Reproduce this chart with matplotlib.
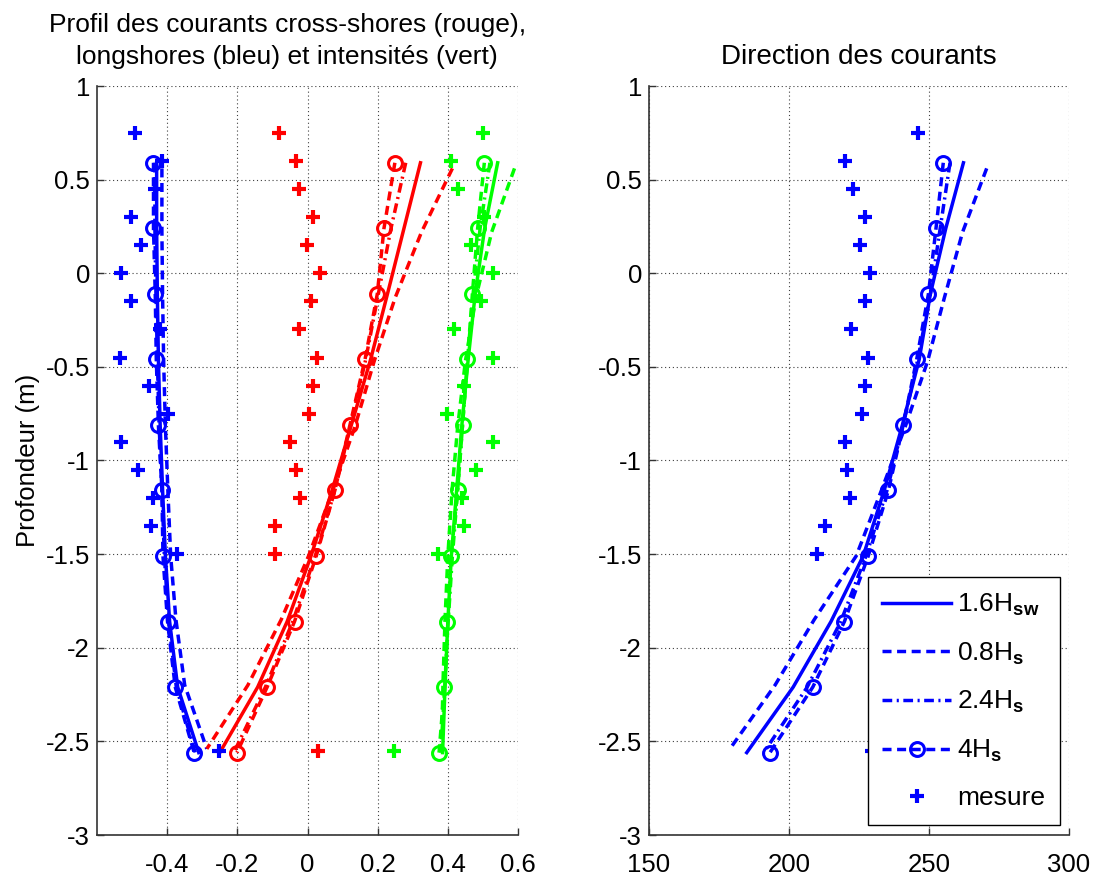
import matplotlib
matplotlib.use("Agg")
import matplotlib.pyplot as plt

plt.rcParams['font.family'] = ['Liberation Sans', 'DejaVu Sans']
plt.rcParams['axes.unicode_minus'] = False
plt.rcParams['mathtext.fontset'] = 'custom'
plt.rcParams['mathtext.rm'] = 'Liberation Sans'
plt.rcParams['mathtext.it'] = 'Liberation Sans'
plt.rcParams['mathtext.bf'] = 'Liberation Sans:bold'

# ---------------- data ----------------
# measurement depths (m)
z_mes = [0.75, 0.60, 0.45, 0.30, 0.15, 0.00, -0.15, -0.30, -0.45, -0.60,
         -0.75, -0.90, -1.05, -1.20, -1.35, -1.50, -2.55]
longshore_mes = [-0.493, -0.415, -0.434, -0.503, -0.474, -0.532, -0.504, -0.420, -0.534,
                 -0.453, -0.399, -0.532, -0.482, -0.439, -0.447, -0.371, -0.253]
crossshore_mes = [-0.082, -0.034, -0.025, 0.016, -0.001, 0.037, 0.009, -0.025, 0.028,
                  0.016, 0.004, -0.051, -0.034, -0.022, -0.093, -0.093, 0.029]
intensity_mes = [0.499, 0.409, 0.428, 0.503, 0.466, 0.528, 0.494, 0.418, 0.528,
                 0.447, 0.397, 0.528, 0.480, 0.440, 0.447, 0.371, 0.247]
direction_mes = [246.0, 220.0, 223.0, 227.1, 225.4, 228.9, 227.1, 222.0, 228.3,
                 227.1, 226.0, 220.0, 220.6, 221.8, 212.9, 209.9, 229.6]

# model depths (m)
z_model = [0.59, 0.24, -0.11, -0.46, -0.81, -1.16, -1.51, -1.86, -2.21, -2.56]
z_model_08 = [0.56, 0.22, -0.13, -0.47, -0.82, -1.16, -1.51, -1.85, -2.20, -2.54]

# longshore (blue)
long_16sw = [-0.430, -0.430, -0.428, -0.425, -0.420, -0.413, -0.405, -0.393, -0.370, -0.310]
long_08 = [-0.415, -0.415, -0.413, -0.410, -0.405, -0.398, -0.390, -0.375, -0.350, -0.287]
long_24 = [-0.435, -0.435, -0.432, -0.428, -0.423, -0.415, -0.408, -0.396, -0.374, -0.320]
long_4 = [-0.439, -0.439, -0.434, -0.431, -0.425, -0.415, -0.412, -0.399, -0.377, -0.323]

# cross-shore (red)
cross_16sw = [0.322, 0.275, 0.228, 0.180, 0.125, 0.070, 0.010, -0.058, -0.142, -0.250]
cross_08 = [0.413, 0.325, 0.250, 0.190, 0.135, 0.072, 0.003, -0.075, -0.170, -0.287]
cross_24 = [0.280, 0.238, 0.202, 0.166, 0.123, 0.078, 0.022, -0.042, -0.120, -0.210]
cross_4 = [0.249, 0.218, 0.199, 0.164, 0.121, 0.078, 0.025, -0.037, -0.115, -0.201]

# intensity (green)
int_16sw = [0.542, 0.505, 0.478, 0.458, 0.440, 0.425, 0.410, 0.400, 0.392, 0.385]
int_08 = [0.590, 0.525, 0.480, 0.450, 0.428, 0.412, 0.400, 0.392, 0.386, 0.382]
int_24 = [0.520, 0.492, 0.472, 0.456, 0.442, 0.428, 0.413, 0.401, 0.391, 0.380]
int_4 = [0.504, 0.485, 0.470, 0.456, 0.442, 0.428, 0.409, 0.399, 0.390, 0.375]

# direction (deg)
dir_16sw = [262.3, 256.0, 250.5, 246.5, 240.5, 234.0, 226.5, 215.0, 201.5, 184.9]
dir_08 = [270.6, 262.0, 255.5, 249.5, 241.5, 233.0, 224.0, 209.0, 195.0, 178.9]
dir_24 = [257.5, 254.0, 250.5, 246.0, 240.8, 235.0, 227.5, 218.5, 206.5, 191.0]
dir_4 = [255.1, 252.5, 249.8, 245.6, 240.8, 235.5, 228.3, 219.8, 208.5, 193.2]

labels = ['1.6H$_{\\mathbf{sw}}$', '0.8H$_{\\mathbf{s}}$', '2.4H$_{\\mathbf{s}}$',
          '4H$_{\\mathbf{s}}$', 'mesure']

# ---------------- styles ----------------
LW = 2.5
DASH = (2.6, 1.6)
DASHDOT = (2.8, 1.3, 0.6, 1.3)
MS_O = 10
MS_P = 10

def draw_models(ax, color, v16, v08, v24, v4):
    h1, = ax.plot(v16, z_model, color=color, lw=LW, ls='-')
    h2, = ax.plot(v08, z_model_08, color=color, lw=LW, dashes=DASH)
    h3, = ax.plot(v24, z_model, color=color, lw=LW, dashes=DASHDOT)
    h4, = ax.plot(v4, z_model, color=color, lw=LW, dashes=DASH, marker='o',
                  ms=MS_O, mfc='none', mec=color, mew=2.2)
    return [h1, h2, h3, h4]

def draw_mes(ax, color, v):
    h, = ax.plot(v, z_mes, ls='none', marker='+', ms=MS_P, mew=3.0, color=color)
    return h

def style_axes(ax):
    for s in ['top', 'right']:
        ax.spines[s].set_visible(False)
    for s in ['left', 'bottom']:
        ax.spines[s].set_color('0.2')
        ax.spines[s].set_linewidth(1.2)
    ax.tick_params(direction='in', length=5, width=1.0, color='0.2',
                   labelsize=18.5, top=False, right=False)
    ax.tick_params(axis='x', pad=13)
    ax.tick_params(axis='y', pad=5)
    ax.grid(True, color='0.25', lw=0.8, ls=(0, (1, 2.5)))
    ax.set_axisbelow(True)
    ax.set_ylim(-3, 1)
    ax.set_yticks([-3, -2.5, -2, -1.5, -1, -0.5, 0, 0.5, 1])
    ax.set_yticklabels(['-3', '-2.5', '-2', '-1.5', '-1', '-0.5', '0', '0.5', '1'])

fig = plt.figure(figsize=(10.95, 8.8), dpi=100)
ax1 = fig.add_axes([97 / 1095, 45 / 880, 421 / 1095, 749 / 880])
ax2 = fig.add_axes([649 / 1095, 45 / 880, 420 / 1095, 749 / 880])

# left panel
draw_models(ax1, (0, 0, 1), long_16sw, long_08, long_24, long_4)
draw_models(ax1, (1, 0, 0), cross_16sw, cross_08, cross_24, cross_4)
draw_models(ax1, (0, 1, 0), int_16sw, int_08, int_24, int_4)
draw_mes(ax1, (0, 0, 1), longshore_mes)
draw_mes(ax1, (1, 0, 0), crossshore_mes)
draw_mes(ax1, (0, 1, 0), intensity_mes)
style_axes(ax1)
ax1.set_xlim(-0.6, 0.6)
ax1.set_xticks([-0.4, -0.2, 0, 0.2, 0.4, 0.6])
ax1.set_xticklabels(['-0.4', '-0.2', '0', '0.2', '0.4', '0.6'])
ax1.set_title('Profil des courants cross-shores (rouge),\nlongshores (bleu) et intensités (vert)',
              fontsize=19, pad=16, x=0.452, linespacing=1.4)
ax1.set_ylabel('Profondeur (m)', fontsize=18.5, labelpad=4)

# right panel
hs = draw_models(ax2, (0, 0, 1), dir_16sw, dir_08, dir_24, dir_4)
hm = draw_mes(ax2, (0, 0, 1), direction_mes)
style_axes(ax2)
ax2.set_xlim(150, 300)
ax2.set_xticks([150, 200, 250, 300])
ax2.set_title('Direction des courants', fontsize=20, pad=16)

leg = ax2.legend(hs + [hm], labels, loc='lower right', bbox_to_anchor=(0.9786, 0.0134),
                 borderaxespad=0, fontsize=19, fancybox=False, framealpha=1,
                 edgecolor='black', handlelength=2.6, handletextpad=0.25,
                 labelspacing=0.85, numpoints=1, borderpad=0.55)
leg.get_frame().set_linewidth(1.0)
leg.set_zorder(10)

fig.savefig('out.png', dpi=100)
